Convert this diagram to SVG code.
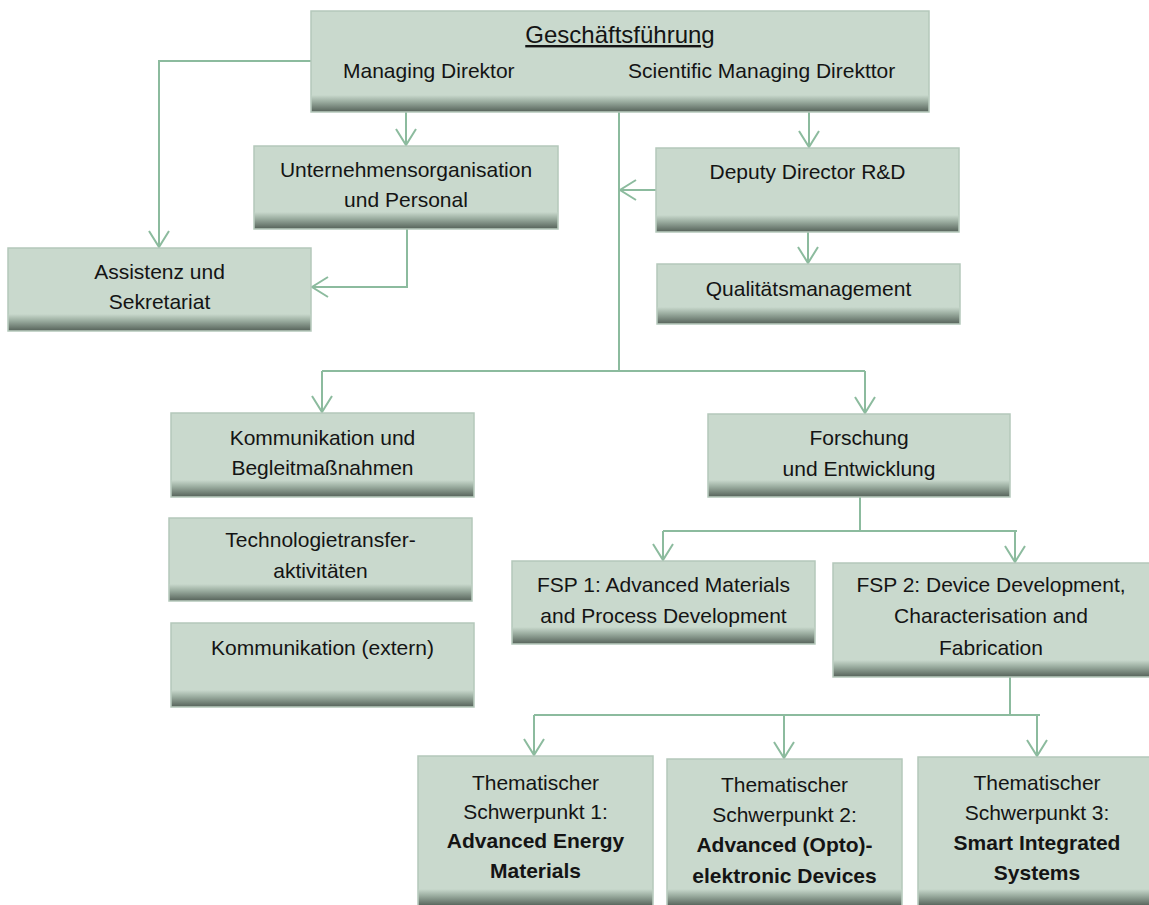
<svg xmlns="http://www.w3.org/2000/svg" width="1149" height="905" viewBox="0 0 1149 905">
<style>
.box{fill:#c9d9cd;stroke:#b4c8ba;stroke-width:1.5}
.band{fill:url(#bandGrad)}
text{font-family:"Liberation Sans",Arial,sans-serif;font-size:21px;fill:#141414}
.c{text-anchor:middle}
.b{font-weight:bold}
.con{fill:none;stroke:#8cbb9e;stroke-width:2}
</style>
<defs>
<linearGradient id="bandGrad" x1="0" y1="0" x2="0" y2="1">
<stop offset="0" stop-color="#c9d9cd"/>
<stop offset="0.4" stop-color="#9caea1"/>
<stop offset="1" stop-color="#5a675e"/>
</linearGradient>
<marker id="arr" viewBox="-18 -12 20 24" refX="0" refY="0" markerWidth="20" markerHeight="24" markerUnits="userSpaceOnUse" orient="auto">
<path d="M-16,-10 L0,0 L-16,10" fill="none" stroke="#8cbb9e" stroke-width="2"/>
</marker>
</defs>

<g id="connectors">
<path class="con" d="M311,61 H159 V247" marker-end="url(#arr)"/>
<path class="con" d="M406,112 V145" marker-end="url(#arr)"/>
<path class="con" d="M809,112 V147" marker-end="url(#arr)"/>
<path class="con" d="M619,112 V371"/>
<path class="con" d="M656,190 H620" marker-end="url(#arr)"/>
<path class="con" d="M808,232 V263" marker-end="url(#arr)"/>
<path class="con" d="M407,229 V287 H312" marker-end="url(#arr)"/>
<path class="con" d="M322,371 H865"/>
<path class="con" d="M322,371 V412" marker-end="url(#arr)"/>
<path class="con" d="M865,371 V413" marker-end="url(#arr)"/>
<path class="con" d="M860,497 V531"/>
<path class="con" d="M663,531 H1017"/>
<path class="con" d="M663,531 V560" marker-end="url(#arr)"/>
<path class="con" d="M1015,531 V562" marker-end="url(#arr)"/>
<path class="con" d="M1010,677 V715"/>
<path class="con" d="M534,715 H1040"/>
<path class="con" d="M534,715 V755" marker-end="url(#arr)"/>
<path class="con" d="M784,715 V758" marker-end="url(#arr)"/>
<path class="con" d="M1037,715 V756" marker-end="url(#arr)"/>
</g>

<g id="geschaeftsfuehrung">
<rect class="box" x="311" y="11" width="618" height="101"/>
<rect class="band" x="311.75" y="95" width="616.5" height="16.25"/>
<text class="c" x="620" y="43" style="font-size:24px" text-decoration="underline">Geschäftsführung</text>
<text x="343" y="78">Managing Direktor</text>
<text x="628" y="78">Scientific Managing Direkttor</text>
</g>

<g id="unternehmensorganisation">
<rect class="box" x="254" y="146" width="304" height="83"/>
<rect class="band" x="254.75" y="212" width="302.5" height="16.25"/>
<text class="c" x="406" y="177">Unternehmensorganisation</text>
<text class="c" x="406" y="207">und Personal</text>
</g>

<g id="deputy">
<rect class="box" x="656" y="148" width="303" height="84"/>
<rect class="band" x="656.75" y="215" width="301.5" height="16.25"/>
<text class="c" x="807.5" y="179">Deputy Director R&amp;D</text>
</g>

<g id="qualitaet">
<rect class="box" x="657" y="264" width="303" height="60"/>
<rect class="band" x="657.75" y="307" width="301.5" height="16.25"/>
<text class="c" x="808.5" y="296">Qualitätsmanagement</text>
</g>

<g id="assistenz">
<rect class="box" x="8" y="248" width="303" height="83"/>
<rect class="band" x="8.75" y="314" width="301.5" height="16.25"/>
<text class="c" x="159.5" y="279">Assistenz und</text>
<text class="c" x="159.5" y="309">Sekretariat</text>
</g>

<g id="kommunikation">
<rect class="box" x="171" y="413" width="303" height="84"/>
<rect class="band" x="171.75" y="480" width="301.5" height="16.25"/>
<text class="c" x="322.5" y="445">Kommunikation und</text>
<text class="c" x="322.5" y="475">Begleitmaßnahmen</text>
</g>

<g id="technologietransfer">
<rect class="box" x="169" y="518" width="303" height="83"/>
<rect class="band" x="169.75" y="584" width="301.5" height="16.25"/>
<text class="c" x="320.5" y="547">Technologietransfer-</text>
<text class="c" x="320.5" y="578">aktivitäten</text>
</g>

<g id="kommunikation-extern">
<rect class="box" x="171" y="623" width="303" height="84"/>
<rect class="band" x="171.75" y="690" width="301.5" height="16.25"/>
<text class="c" x="322.5" y="655">Kommunikation (extern)</text>
</g>

<g id="forschung">
<rect class="box" x="708" y="414" width="302" height="83"/>
<rect class="band" x="708.75" y="480" width="300.5" height="16.25"/>
<text class="c" x="859" y="445">Forschung</text>
<text class="c" x="859" y="476">und Entwicklung</text>
</g>

<g id="fsp1">
<rect class="box" x="512" y="561" width="303" height="83"/>
<rect class="band" x="512.75" y="627" width="301.5" height="16.25"/>
<text class="c" x="663.5" y="592">FSP 1: Advanced Materials</text>
<text class="c" x="663.5" y="623">and Process Development</text>
</g>

<g id="fsp2">
<rect class="box" x="833" y="563" width="317" height="114"/>
<rect class="band" x="833.75" y="660" width="315.5" height="16.25"/>
<text class="c" x="991" y="592">FSP 2: Device Development,</text>
<text class="c" x="991" y="623">Characterisation and</text>
<text class="c" x="991" y="655">Fabrication</text>
</g>

<g id="ts1">
<rect class="box" x="418" y="756" width="235" height="152"/>
<rect class="band" x="418.75" y="889" width="233.5" height="16.25"/>
<text class="c" x="535.5" y="790">Thematischer</text>
<text class="c" x="535.5" y="819">Schwerpunkt 1:</text>
<text class="c b" x="535.5" y="848">Advanced Energy</text>
<text class="c b" x="535.5" y="878">Materials</text>
</g>

<g id="ts2">
<rect class="box" x="667" y="759" width="235" height="149"/>
<rect class="band" x="667.75" y="889" width="233.5" height="16.25"/>
<text class="c" x="784.5" y="792">Thematischer</text>
<text class="c" x="784.5" y="822">Schwerpunkt 2:</text>
<text class="c b" x="784.5" y="852">Advanced (Opto)-</text>
<text class="c b" x="784.5" y="883">elektronic Devices</text>
</g>

<g id="ts3">
<rect class="box" x="918" y="757" width="238" height="151"/>
<rect class="band" x="918.75" y="889" width="236.5" height="16.25"/>
<text class="c" x="1037" y="790">Thematischer</text>
<text class="c" x="1037" y="820">Schwerpunkt 3:</text>
<text class="c b" x="1037" y="850">Smart Integrated</text>
<text class="c b" x="1037" y="880">Systems</text>
</g>
</svg>
